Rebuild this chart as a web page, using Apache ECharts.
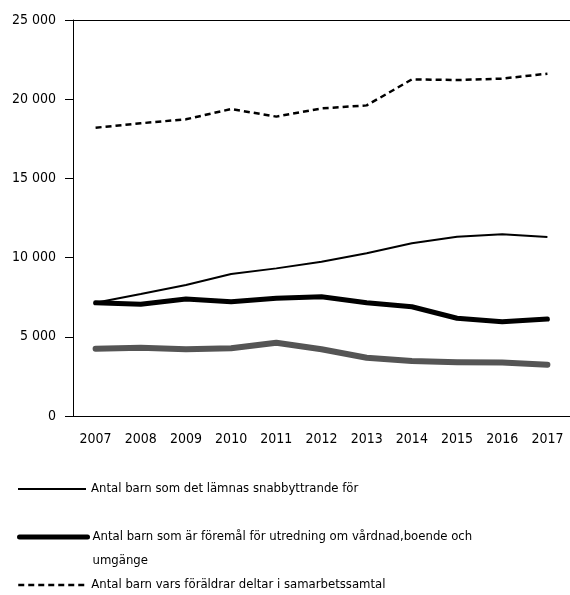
<!DOCTYPE html>
<html>
<head>
    <meta charset="utf-8" />
    <title>Antal barn</title>
    <script src="https://cdn.jsdelivr.net/npm/echarts@6/dist/echarts.min.js"></script>
    <style>
        html, body { margin: 0; padding: 0; background: #fff; }
        #chart { width: 570px; height: 595px; }
    </style>
</head>
<body>
    <div id="chart"></div>
    <script>
        // år
        var years = ['2007', '2008', '2009', '2010', '2011', '2012', '2013', '2014', '2015', '2016', '2017'];
        // serier
        var snabbyttrande = [7150, 7700, 8270, 8960, 9320, 9740, 10270, 10900, 11320, 11470, 11300];
        var utredning = [7150, 7050, 7390, 7220, 7430, 7530, 7150, 6900, 6170, 5950, 6120];
        var samarbetssamtal = [18200, 18480, 18730, 19380, 18900, 19420, 19610, 21250, 21210, 21300, 21610];
        var grey = [4250, 4310, 4210, 4280, 4630, 4210, 3680, 3470, 3390, 3370, 3240];
        var yTicks = [0, 5000, 10000, 15000, 20000, 25000];

        var names = [
            'Antal barn som det lämnas snabbyttrande för',
            'Antal barn som är föremål för utredning om vårdnad,boende och\numgänge',
            'Antal barn vars föräldrar deltar i samarbetssamtal',
            'Övrigt'
        ];
        var font = '"DejaVu Sans Condensed", "Liberation Sans", sans-serif';

        var myChart = echarts.init(document.getElementById('chart'));
        var legendBase = {
            orient: 'vertical',
            left: 12,
            itemWidth: 68,
            itemHeight: 14,
            itemGap: 0,
            itemTextGap: 5,
            itemStyle: { opacity: 0 },
            textStyle: { fontFamily: font, fontSize: 13, color: '#000', lineHeight: 24 }
        };
        myChart.setOption({
            animation: false,
            grid: { left: 73, right: 0, top: 20, bottom: 179 },
            legend: [
                Object.assign({}, legendBase, { top: 472, data: [names[0]], lineStyle: { width: 2 } }),
                Object.assign({}, legendBase, {
                    top: 496, data: [names[1]], lineStyle: { width: 5 },
                    // tom rad överst så att linjen hamnar vid första textraden
                    formatter: function (name) { return ' \n' + name; }
                }),
                Object.assign({}, legendBase, { top: 568, data: [names[2]], lineStyle: { width: 2.5 } })
            ],
            xAxis: [
                {
                    type: 'category',
                    data: years,
                    boundaryGap: true,
                    axisLine: { lineStyle: { color: '#000', width: 1 } },
                    axisTick: { length: 6, lineStyle: { color: '#000' } },
                    axisLabel: { fontFamily: font, fontSize: 14, color: '#000', margin: 16 }
                },
                {
                    type: 'category',
                    data: years,
                    position: 'bottom',
                    axisLine: { show: false },
                    axisTick: { inside: true, length: 5, lineStyle: { color: '#000' } },
                    axisLabel: { show: false }
                },
                {
                    type: 'category',
                    data: years,
                    position: 'top',
                    axisLine: { show: true, lineStyle: { color: '#000', width: 1 } },
                    axisTick: { show: false },
                    axisLabel: { show: false }
                }
            ],
            yAxis: {
                type: 'value',
                min: yTicks[0],
                max: yTicks[yTicks.length - 1],
                interval: 5000,
                axisLine: { show: true, lineStyle: { color: '#000', width: 1 } },
                axisTick: { show: true, length: 8, lineStyle: { color: '#000' } },
                splitLine: { show: false },
                axisLabel: {
                    fontFamily: font, fontSize: 14, color: '#000', margin: 17,
                    formatter: function (v) {
                        return String(v).replace(/\B(?=(\d{3})+(?!\d))/g, ' ');
                    }
                }
            },
            series: [
                {
                    name: names[3], type: 'line', data: grey, symbol: 'none',
                    lineStyle: { color: '#555', width: 6, cap: 'round', join: 'round' },
                    itemStyle: { color: '#555' }
                },
                {
                    name: names[1], type: 'line', data: utredning, symbol: 'none',
                    lineStyle: { color: '#000', width: 5, cap: 'round', join: 'round' },
                    itemStyle: { color: '#000' }
                },
                {
                    name: names[0], type: 'line', data: snabbyttrande, symbol: 'none',
                    lineStyle: { color: '#000', width: 2 },
                    itemStyle: { color: '#000' }
                },
                {
                    name: names[2], type: 'line', data: samarbetssamtal, symbol: 'none',
                    lineStyle: { color: '#000', width: 2.5, type: [6, 4] },
                    itemStyle: { color: '#000' }
                }
            ]
        });
    </script>
</body>
</html>
